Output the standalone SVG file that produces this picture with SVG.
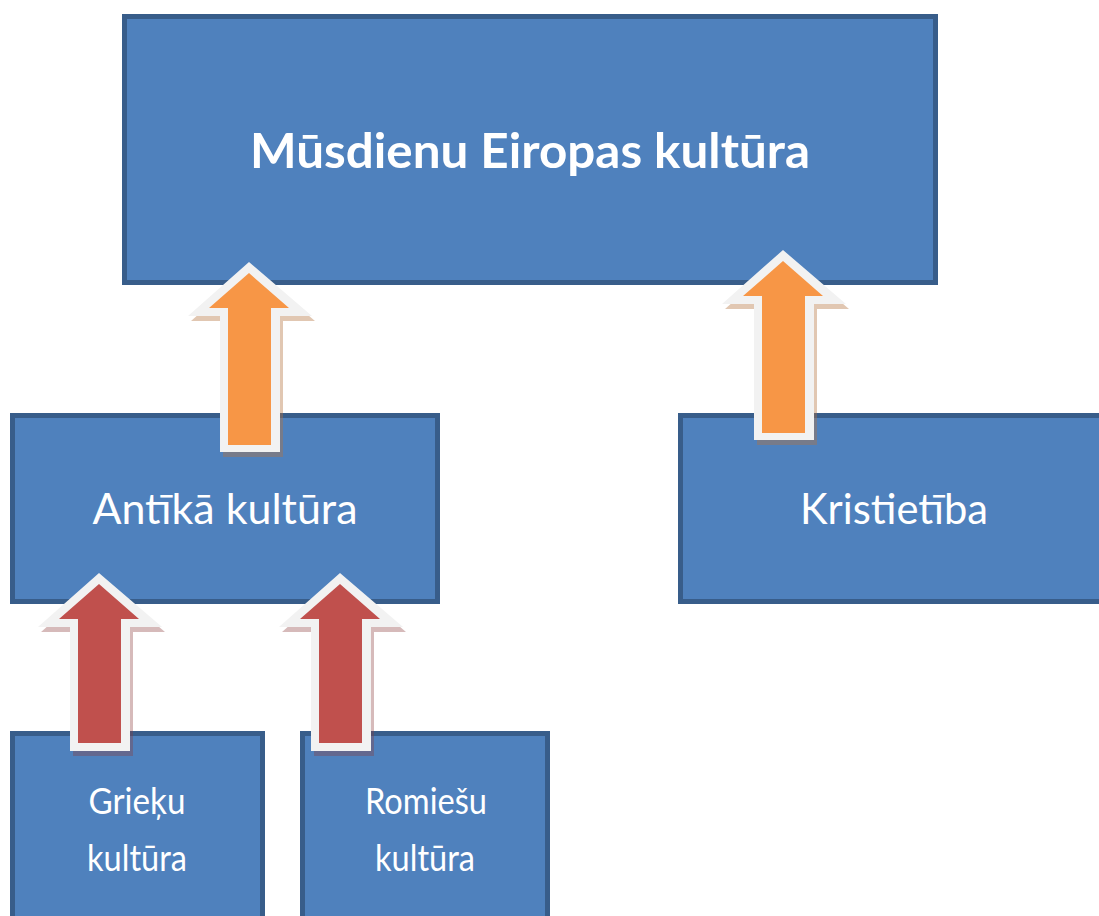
<svg xmlns="http://www.w3.org/2000/svg" width="1099" height="916" viewBox="0 0 1099 916">
<style>
.box{fill:#4f81bd;stroke:#385d8a;stroke-width:5}
.t{font-family:Lato,"Open Sans","Liberation Sans",sans-serif;fill:#ffffff;text-anchor:middle}
.out{fill:#f2f2f2}
.shO{fill:#b5733f;opacity:0.4}
.shR{fill:#8a3a3a;opacity:0.35}
.or{fill:#f79646}
.rd{fill:#c0504d}
</style>
<defs>
<path id="outer" d="M0,0 L63,54 L31,54 L31,190 L-29,190 L-29,54 L-61,54 Z"/>
<path id="inner" d="M0,11 L40,46 L22,46 L22,183 L-21,183 L-21,46 L-40,46 Z"/>
<path id="outerS" d="M0,0 L63,54 L31,54 L31,178 L-29,178 L-29,54 L-61,54 Z"/>
<path id="innerS" d="M0,11 L40,46 L22,46 L22,170 L-21,170 L-21,46 L-40,46 Z"/>
</defs>
<g id="node-musdienu">
<rect class="box" x="124.5" y="16.5" width="811" height="266"/>
<text class="t" x="530" y="168" font-size="48" font-weight="bold" textLength="560" lengthAdjust="spacingAndGlyphs">Mūsdienu Eiropas kultūra</text>
</g>
<g id="node-antika">
<rect class="box" x="12.5" y="415.5" width="425" height="186"/>
<text class="t" x="225" y="524" font-size="42" textLength="265" lengthAdjust="spacingAndGlyphs">Antīkā kultūra</text>
</g>
<g id="node-kristietiba">
<rect class="box" x="680.5" y="415.5" width="430" height="186"/>
<text class="t" x="894" y="524" font-size="42" textLength="188" lengthAdjust="spacingAndGlyphs">Kristietība</text>
</g>
<g id="node-grieku">
<rect class="box" x="12.5" y="733.5" width="250" height="200"/>
<text class="t" x="137" y="814" font-size="37" textLength="97" lengthAdjust="spacingAndGlyphs">Grieķu</text>
<text class="t" x="137" y="871" font-size="37" textLength="100" lengthAdjust="spacingAndGlyphs">kultūra</text>
</g>
<g id="node-romiesu">
<rect class="box" x="302.5" y="733.5" width="245" height="200"/>
<text class="t" x="426" y="814" font-size="37" textLength="122" lengthAdjust="spacingAndGlyphs">Romiešu</text>
<text class="t" x="425" y="871" font-size="37" textLength="100" lengthAdjust="spacingAndGlyphs">kultūra</text>
</g>
<g id="connectors">
<g transform="translate(249,262)">
<use href="#outer" class="shO" transform="translate(3,5)"/>
<use href="#outer" class="out"/>
<use href="#inner" class="or"/>
</g>
<g transform="translate(783,250)">
<use href="#outer" class="shO" transform="translate(3,5)"/>
<use href="#outer" class="out"/>
<use href="#inner" class="or"/>
</g>
<g transform="translate(99,573)">
<use href="#outerS" class="shR" transform="translate(3,5)"/>
<use href="#outerS" class="out"/>
<use href="#innerS" class="rd"/>
</g>
<g transform="translate(340,573)">
<use href="#outerS" class="shR" transform="translate(3,5)"/>
<use href="#outerS" class="out"/>
<use href="#innerS" class="rd"/>
</g>
</g>
</svg>
